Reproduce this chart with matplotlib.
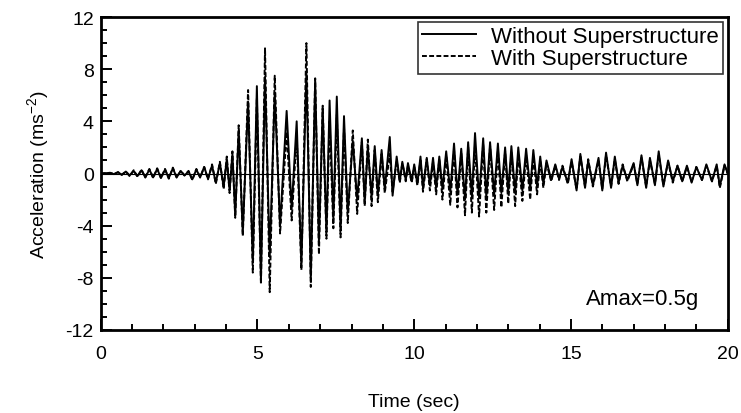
import numpy as np
import matplotlib
matplotlib.use("Agg")
import matplotlib.pyplot as plt
from matplotlib.ticker import MultipleLocator

plt.rcParams['font.family'] = ['Liberation Sans', 'DejaVu Sans']
plt.rcParams['axes.unicode_minus'] = False

# extrema of the two records (time in s, acceleration in m/s^2)
t_peak = [
    0.00, 0.30, 0.42, 0.55, 0.67, 0.80, 0.92, 1.05, 1.17, 1.30,
    1.42, 1.55, 1.67, 1.80, 1.92, 2.05, 2.17, 2.30, 2.42, 2.55,
    2.67, 2.80, 2.92, 3.05, 3.17, 3.30, 3.42, 3.55, 3.67, 3.80,
    3.92, 4.02, 4.11, 4.20, 4.29, 4.40, 4.53, 4.70, 4.85, 4.98,
    5.11, 5.24, 5.39, 5.55, 5.72, 5.93, 6.09, 6.25, 6.40, 6.56,
    6.70, 6.84, 6.96, 7.08, 7.20, 7.30, 7.42, 7.53, 7.65, 7.76,
    7.88, 8.04, 8.18, 8.33, 8.42, 8.52, 8.64, 8.74, 8.84, 8.96,
    9.06, 9.22, 9.31, 9.44, 9.54, 9.62, 9.73, 9.80, 9.92, 10.00,
    10.10, 10.20, 10.28, 10.40, 10.50, 10.60, 10.70, 10.80, 10.90, 11.02,
    11.15, 11.27, 11.38, 11.50, 11.62, 11.72, 11.84, 11.94, 12.07, 12.20,
    12.30, 12.42, 12.55, 12.67, 12.78, 12.90, 13.00, 13.10, 13.22, 13.32,
    13.45, 13.57, 13.70, 13.80, 13.92, 14.02, 14.12, 14.22, 14.37, 14.50,
    14.62, 14.73, 14.90, 15.02, 15.18, 15.30, 15.45, 15.55, 15.70, 15.88,
    16.00, 16.12, 16.28, 16.40, 16.52, 16.65, 16.80, 17.00, 17.12, 17.25,
    17.40, 17.52, 17.68, 17.80, 17.95, 18.10, 18.25, 18.40, 18.55, 18.70,
    18.85, 19.00, 19.18, 19.32, 19.50, 19.65, 19.75, 19.90, 20.00,
]

acc_without = [
    0.0, 0.05, -0.05, 0.1, -0.1, 0.15, -0.15, 0.2, -0.2, 0.25,
    -0.3, 0.3, -0.3, 0.35, -0.35, 0.3, -0.35, 0.4, -0.3, 0.2,
    -0.15, 0.15, -0.45, 0.3, -0.3, 0.5, -0.4, 0.6, -0.7, 0.8,
    -1.0, 1.1, -1.3, 1.5, -3.2, 3.3, -4.5, 5.5, -6.8, 6.7,
    -8.2, 7.4, -6.4, 6.2, -4.0, 4.8, -2.7, 4.0, -7.0, 7.8,
    -8.0, 7.1, -5.2, 5.0, -4.5, 5.6, -3.5, 5.9, -4.3, 4.4,
    -3.0, 2.5, -2.0, 2.7, -2.2, 2.0, -1.8, 2.1, -1.6, 1.8,
    -1.2, 2.8, -1.7, 1.3, -0.6, 0.9, -0.5, 0.8, -0.6, 0.7,
    -0.8, 1.3, -1.1, 1.2, -0.9, 1.2, -1.1, 1.3, -1.2, 1.7,
    -1.4, 2.3, -1.6, 1.9, -2.0, 2.4, -1.8, 3.1, -1.9, 2.7,
    -1.8, 2.4, -1.6, 2.3, -1.5, 2.0, -1.4, 2.1, -1.5, 2.0,
    -1.3, 1.9, -1.2, 1.8, -1.0, 1.3, -0.8, 1.0, -0.5, 0.7,
    -0.4, 0.5, -0.7, 1.1, -1.3, 1.5, -1.1, 1.0, -0.9, 1.2,
    -1.3, 1.6, -1.1, 1.3, -0.7, 0.6, -0.5, 0.8, -0.9, 1.4,
    -1.1, 1.2, -0.9, 1.7, -1.0, 1.0, -0.6, 0.6, -0.6, 0.6,
    -0.7, 0.5, -0.5, 0.7, -0.6, 0.7, -1.0, 0.7, 0.0,
]

acc_with = [
    0.0, 0.05, -0.05, 0.1, -0.1, 0.15, -0.2, 0.25, -0.25, 0.3,
    -0.3, 0.35, -0.35, 0.4, -0.35, 0.35, -0.4, 0.45, -0.3, 0.2,
    -0.15, 0.2, -0.5, 0.35, -0.3, 0.5, -0.45, 0.7, -0.8, 0.9,
    -1.2, 1.3, -1.5, 1.7, -3.4, 3.7, -4.8, 6.4, -7.6, 5.8,
    -8.5, 9.6, -9.1, 7.5, -4.6, 3.2, -3.6, 3.0, -7.4, 10.0,
    -8.7, 7.3, -6.2, 5.2, -5.0, 4.0, -4.2, 4.5, -4.9, 3.5,
    -3.8, 3.3, -3.1, 2.4, -2.5, 2.6, -2.5, 1.8, -2.2, 1.5,
    -1.5, 1.5, -1.4, 1.0, -0.7, 0.8, -0.6, 0.6, -0.7, 0.5,
    -0.9, 1.0, -1.4, 1.1, -1.3, 0.9, -1.6, 1.1, -2.0, 1.4,
    -2.4, 1.8, -2.6, 1.6, -3.2, 2.0, -3.0, 2.2, -3.3, 2.3,
    -3.0, 2.1, -2.8, 1.8, -2.6, 1.7, -2.3, 1.6, -2.5, 1.5,
    -2.1, 1.4, -2.0, 1.3, -1.6, 1.0, -1.1, 0.8, -0.6, 0.6,
    -0.5, 0.6, -0.8, 0.9, -1.2, 1.3, -1.0, 1.1, -1.0, 1.0,
    -1.2, 1.4, -1.0, 1.1, -0.8, 0.7, -0.6, 0.7, -0.8, 1.2,
    -1.0, 1.0, -0.8, 1.4, -0.9, 0.9, -0.7, 0.6, -0.6, 0.5,
    -0.6, 0.5, -0.5, 0.6, -0.6, 0.6, -1.1, 0.6, 0.0,
]

fig = plt.figure(figsize=(7.41, 4.14), dpi=100)
ax = fig.add_axes([0.136, 0.2005, 0.846, 0.756])

ax.axhline(0, color='black', lw=0.8, zorder=1)
ax.plot(t_peak, acc_without, color='black', lw=1.4, ls='-', label='Without Superstructure', zorder=3)
ax.plot(t_peak, acc_with, color='black', lw=1.4, ls=(0, (2.5, 1.2)), label='With Superstructure', zorder=2)

ax.set_xlim(0, 20)
ax.set_ylim(-12, 12)
ax.xaxis.set_major_locator(MultipleLocator(5))
ax.xaxis.set_minor_locator(MultipleLocator(1))
ax.yaxis.set_major_locator(MultipleLocator(4))
ax.yaxis.set_minor_locator(MultipleLocator(1))
ax.tick_params(which='both', direction='in', top=False, right=False, width=1.4, labelsize=14)
ax.tick_params(which='major', length=8)
ax.tick_params(which='minor', length=4.5)
ax.tick_params(axis='x', which='major', pad=11)
ax.tick_params(axis='y', which='major', pad=5)
for s in ax.spines.values():
    s.set_linewidth(2)

ax.set_xlabel('Time (sec)', fontsize=14, labelpad=22)
ax.set_ylabel('Acceleration (ms$^{\\mathregular{-2}}$)', fontsize=14, labelpad=10)

ax.text(0.955, 0.1, 'Amax=0.5g', transform=ax.transAxes, ha='right', va='center', fontsize=16)

leg = ax.legend(loc='upper right', bbox_to_anchor=(0.993, 0.985), fontsize=16,
                frameon=True, fancybox=False, handlelength=2.4, borderpad=0.2,
                labelspacing=0.05, handletextpad=0.7, borderaxespad=0)
leg.get_frame().set_edgecolor('black')
leg.get_frame().set_linewidth(1.2)
for h in leg.get_lines():
    h.set_linewidth(1.4)

fig.savefig('out.png', dpi=100)
